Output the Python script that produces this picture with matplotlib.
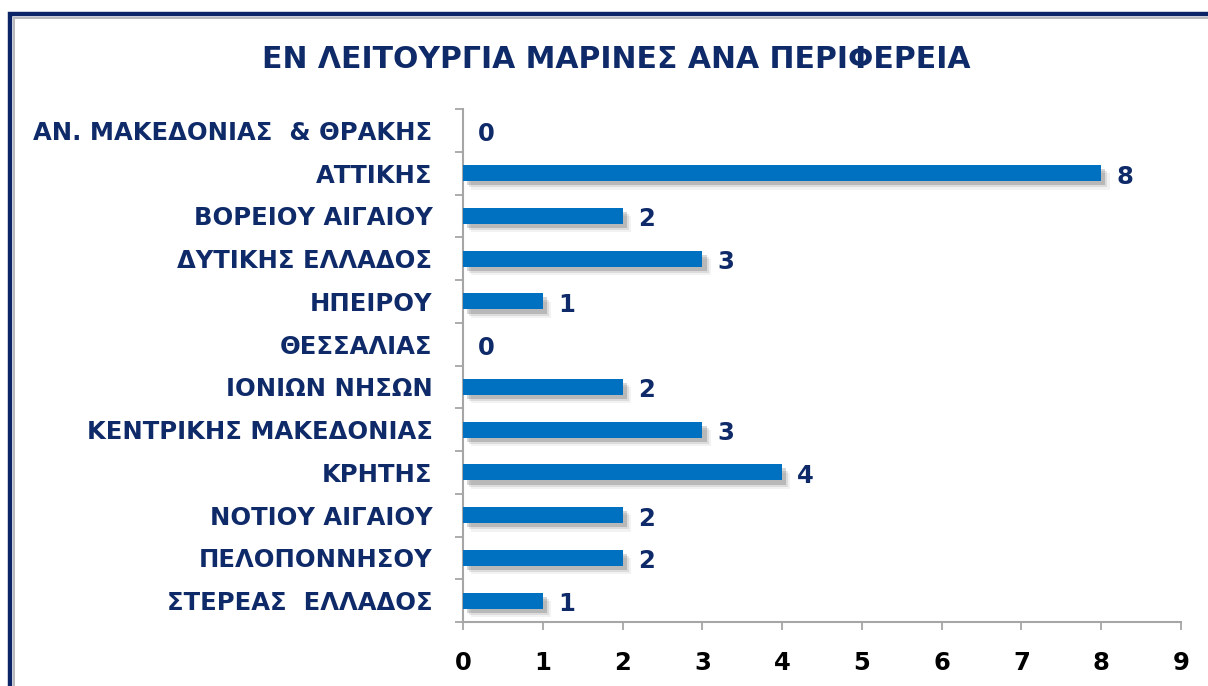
import matplotlib.pyplot as plt
import matplotlib.patheffects as pe
from matplotlib.patches import Rectangle

regions = [
    "ΑΝ. ΜΑΚΕΔΟΝΙΑΣ  & ΘΡΑΚΗΣ",
    "ΑΤΤΙΚΗΣ",
    "ΒΟΡΕΙΟΥ ΑΙΓΑΙΟΥ",
    "ΔΥΤΙΚΗΣ ΕΛΛΑΔΟΣ",
    "ΗΠΕΙΡΟΥ",
    "ΘΕΣΣΑΛΙΑΣ",
    "ΙΟΝΙΩΝ ΝΗΣΩΝ",
    "ΚΕΝΤΡΙΚΗΣ ΜΑΚΕΔΟΝΙΑΣ",
    "ΚΡΗΤΗΣ",
    "ΝΟΤΙΟΥ ΑΙΓΑΙΟΥ",
    "ΠΕΛΟΠΟΝΝΗΣΟΥ",
    "ΣΤΕΡΕΑΣ  ΕΛΛΑΔΟΣ",
]
marinas = [0, 8, 2, 3, 1, 0, 2, 3, 4, 2, 2, 1]
xticks = list(range(0, 10))

NAVY = "#0f2a68"
BAR = "#0070c0"
AXIS = "#a6a6a6"

plt.rcParams["font.family"] = ["DejaVu Sans"]
plt.rcParams["font.weight"] = "bold"

W, H = 1208, 686
fig = plt.figure(figsize=(W / 100, H / 100), dpi=100)
fig.patch.set_facecolor("white")

# outer frame (navy with a thin grey inner rule), running off right/bottom
def px_rect(x0, y0, x1, y1, **kw):
    return Rectangle((x0 / W, 1 - y1 / H), (x1 - x0) / W, (y1 - y0) / H,
                     transform=fig.transFigure, fill=False, **kw)

fig.add_artist(px_rect(10, 14, 1240, 720, edgecolor="#0b2566", linewidth=3.2))
fig.add_artist(px_rect(14, 18, 1236, 716, edgecolor="#b9b9b9", linewidth=1.4))

ax = fig.add_axes([463 / W, 1 - 622 / H, (1181 - 463) / W, (622 - 109) / H])
ypos = list(range(len(regions)))
bars = ax.barh(ypos, marinas, height=0.38, color=BAR, zorder=3)
for b in bars:
    b.set_path_effects([
        pe.SimplePatchShadow(offset=(6, -6), shadow_rgbFace="#000000", alpha=0.05),
        pe.SimplePatchShadow(offset=(4.5, -4.5), shadow_rgbFace="#000000", alpha=0.09),
        pe.SimplePatchShadow(offset=(3, -3), shadow_rgbFace="#000000", alpha=0.16),
        pe.Normal(),
    ])

for y, v in zip(ypos, marinas):
    ax.text(v + 0.19, y + 0.08, str(v), va="center", ha="left",
            fontsize=17.5, fontweight="bold", color=NAVY)

ax.set_xlim(0, 9)
ax.set_ylim(len(regions) - 0.5, -0.5)
ax.set_xticks(xticks)
ax.set_xticklabels([str(t) for t in xticks], fontsize=17.5, fontweight="bold", color="black")
ax.set_yticks(ypos)
ax.set_yticklabels(regions, fontsize=17.5, fontweight="bold", color=NAVY)
ax.set_yticks([y - 0.5 for y in range(len(regions) + 1)], minor=True)

ax.tick_params(axis="y", which="major", length=0, pad=22)
ax.tick_params(axis="y", which="minor", length=6, width=1.3, color=AXIS, direction="out")
ax.tick_params(axis="x", length=6, width=1.3, color=AXIS, direction="out", pad=15)

for s in ("top", "right"):
    ax.spines[s].set_visible(False)
for s in ("left", "bottom"):
    ax.spines[s].set_color(AXIS)
    ax.spines[s].set_linewidth(1.5)

fig.text(616 / W, 1 - 60 / H, "ΕΝ ΛΕΙΤΟΥΡΓΙΑ ΜΑΡΙΝΕΣ ΑΝΑ ΠΕΡΙΦΕΡΕΙΑ",
         ha="center", va="center", fontsize=21.5, fontweight="bold", color=NAVY)

fig.savefig("out.png", dpi=100)
